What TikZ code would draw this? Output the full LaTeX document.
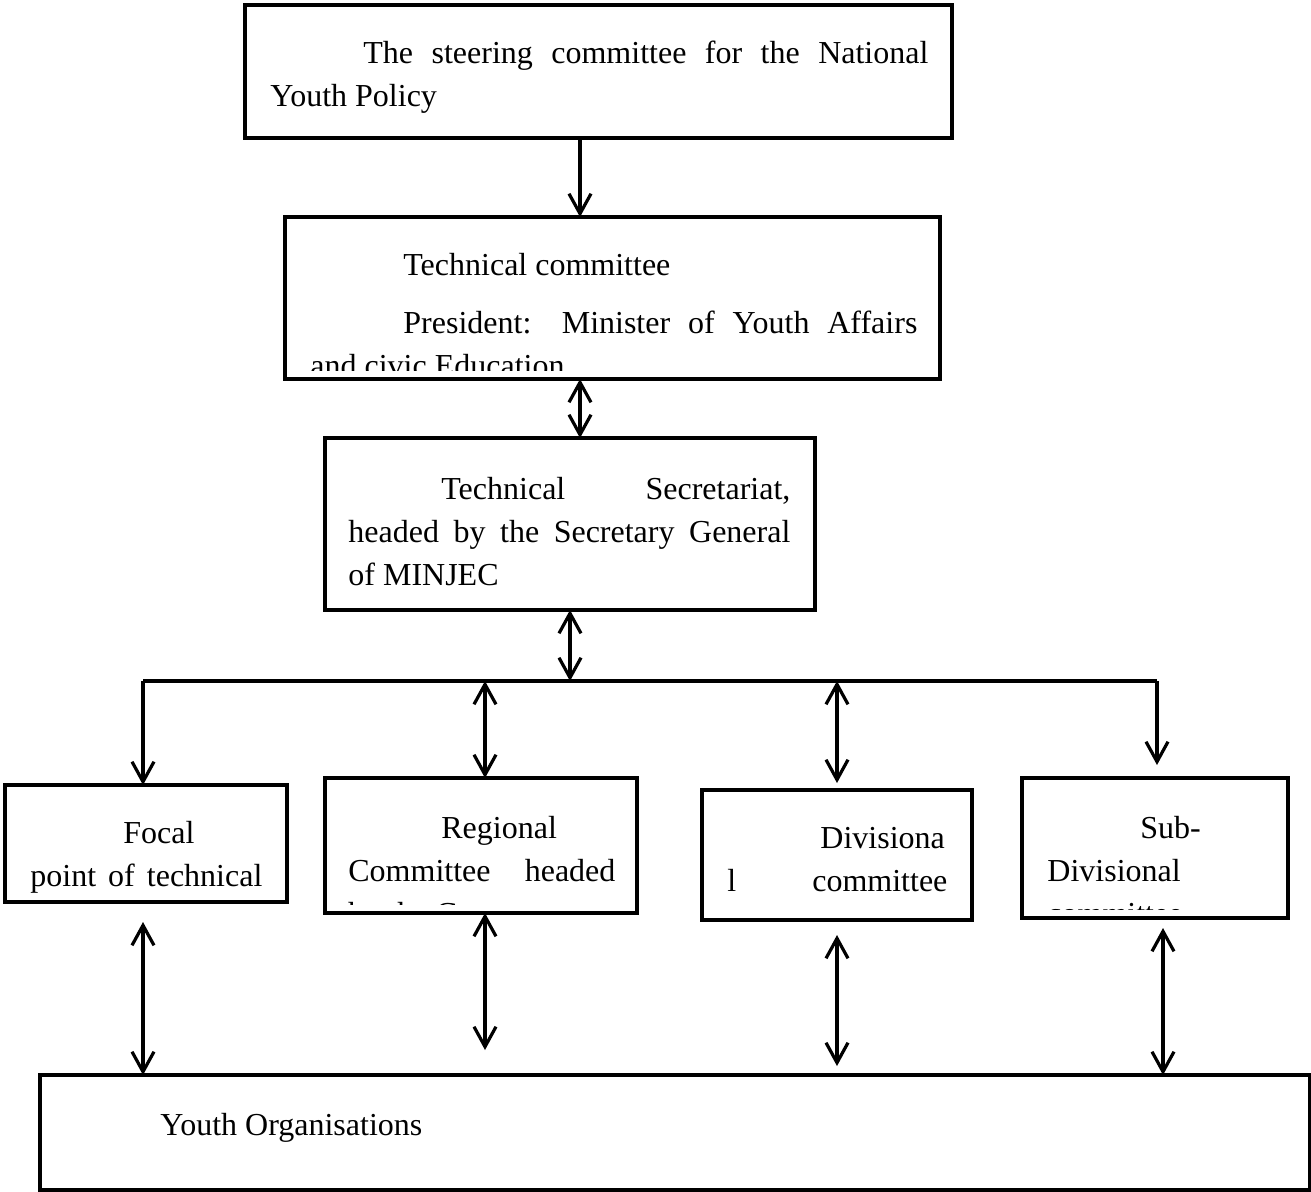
\documentclass[tikz,border=0pt]{standalone}
\usepackage{fontspec}
\setmainfont{Liberation Serif}
\usetikzlibrary{arrows.meta,fit}
\tolerance=10000 \hbadness=10000 \hyphenpenalty=10000

\begin{document}
\begin{tikzpicture}[x=0.5pt,y=-0.5pt,
    box/.style={draw, line width=2.3pt, inner sep=0pt, outer sep=0pt},
    txt/.style={anchor=north west, inner sep=0pt, align=justify, font=\fontsize{16}{21.5}\selectfont},
    link/.style={line width=1.6pt, -{Straight Barb[length=10pt,width=11pt]}},
    dlink/.style={line width=1.6pt, {Straight Barb[length=10pt,width=11pt]}-{Straight Barb[length=10pt,width=11pt]}},
    bus/.style={line width=1.6pt}]
    \useasboundingbox (0,0) rectangle (1311,1191);

    \node[box, fit={(245,5) (952,138)}] (steer) {};
    \node[box, fit={(285,217) (940,379)}] (tech) {};
    \node[box, fit={(325,438) (815,610)}] (sec) {};
    \node[box, fit={(5,785) (287,902)}] (focal) {};
    \node[box, fit={(325,778) (637,913)}] (reg) {};
    \node[box, fit={(702,790) (972,920)}] (div) {};
    \node[box, fit={(1022,778) (1288,918)}] (sub) {};
    \node[box, fit={(40,1075) (1310,1190)}] (youth) {};

    \node[txt, text width=329pt] (steertxt) at (270,33)
        {\strut\hspace*{46.5pt}The steering committee for the National\linebreak Youth Policy};
    \begin{scope}
        \clip ([shift={(4,4)}]tech.north west) rectangle ([shift={(-4,-9)}]tech.south east);
        \node[txt, text width=303.5pt] (techtxt) at (310,245)
            {\strut\hspace*{46.5pt}Technical committee\\[7.5pt]\hspace*{46.5pt}President: Minister of Youth Affairs\linebreak and civic Education};
    \end{scope}
    \node[txt, text width=221pt] (sectxt) at (348,469)
        {\strut\hspace*{46.5pt}Technical Secretariat,\linebreak headed by the Secretary General\linebreak of MINJEC};
    \begin{scope}
        \clip ([shift={(4,4)}]focal.north west) rectangle ([shift={(-4,-9)}]focal.south east);
        \node[txt, text width=116pt] (focaltxt) at (30,813)
            {\strut\hspace*{46.5pt}Focal\linebreak point\hfill of\hfill technical};
    \end{scope}
    \begin{scope}
        \clip ([shift={(4,4)}]reg.north west) rectangle ([shift={(-4,-9)}]reg.south east);
        \node[txt, text width=133.5pt] (regtxt) at (348,808)
            {\strut\hspace*{46.5pt}Regional\linebreak Committee headed\linebreak by the Governor};
    \end{scope}
    \node[txt, text width=110pt] (divtxt) at (727,818)
        {\strut\hspace*{46.5pt}Divisiona\linebreak l\hfill committee};
    \begin{scope}
        \clip ([shift={(4,4)}]sub.north west) rectangle ([shift={(-4,-9)}]sub.south east);
        \node[txt, text width=108pt] (subtxt) at (1047,808)
            {\strut\hspace*{46.5pt}Sub-\linebreak Divisional\linebreak committee};
    \end{scope}
    \node[anchor=base west, inner sep=0pt, font=\fontsize{16}{21.5}\selectfont] (youthtxt) at (160,1135) {Youth Organisations};

    \coordinate (spine) at (580,0);
    \coordinate (busL) at (143,681);
    \coordinate (busR) at (1157,681);

    \draw[link] (steer.south -| spine) -- (tech.north -| spine);
    \draw[dlink] (tech.south -| spine) -- (sec.north -| spine);
    \draw[dlink] (sec.south) -- (sec.south |- busL);
    \draw[bus] (busL) -- (busR);
    \draw[link] (busL) -- (busL |- focal.north);
    \draw[dlink] ([xshift=2pt]busL -| reg.north) -- ([xshift=2pt]reg.north);
    \draw[dlink, shorten >=3.5pt] (busL -| div.north) -- (div.north);
    \draw[link, shorten >=6.5pt] (busR) -- (busR |- sub.north);

    \draw[dlink, shorten <=10pt] (focal.south -| busL) -- (youth.north -| busL);
    \draw[dlink, shorten >=12.5pt] ([xshift=2pt]reg.south) -- ([xshift=2pt]reg.south |- youth.north);
    \draw[dlink, shorten <=7.5pt, shorten >=4.5pt] (div.south) -- (div.south |- youth.north);
    \draw[dlink, shorten <=5pt] ([xshift=4pt]sub.south) -- ([xshift=4pt]sub.south |- youth.north);
\end{tikzpicture}
\end{document}
